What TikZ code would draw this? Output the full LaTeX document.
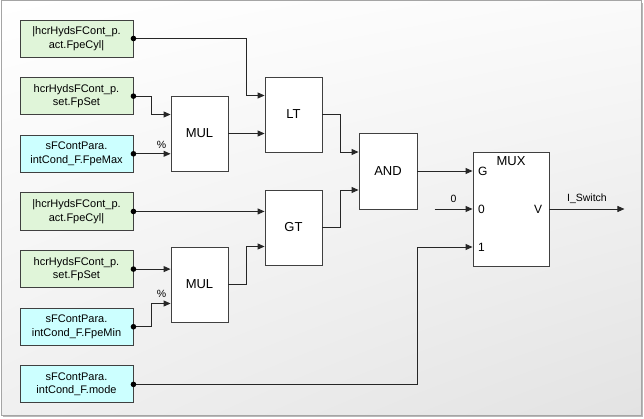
\documentclass[tikz,border=0pt]{standalone}
\usepackage{fontspec}
\setmainfont{Liberation Sans}
\usetikzlibrary{arrows.meta, calc, positioning, patterns, shadings}

\definecolor{inputgreen}{RGB}{224,245,217}
\definecolor{paracyan}{RGB}{204,255,255}
\definecolor{framegray}{RGB}{165,165,165}

\begin{document}
\begin{tikzpicture}[x=1pt, y=1pt, >={Triangle[length=7pt, width=6pt]}, line width=0.9pt,
    inbox/.style={draw=black!75, fill=inputgreen, minimum width=113pt, minimum height=37pt,
      align=center, inner sep=1pt, font=\fontsize{11}{13.5}\selectfont},
    parbox/.style={inbox, fill=paracyan},
    block/.style={draw=black!75, fill=white, minimum width=57pt, minimum height=75pt,
      font=\fontsize{13}{15}\selectfont},
    port/.style={inner sep=0pt, font=\fontsize{12}{14}\selectfont},
    small/.style={inner sep=1pt, font=\fontsize{10.5}{12}\selectfont},
    wire/.style={black!85}]
    \useasboundingbox (0,0) rectangle (644,418);
    % frame
    \fill[black!28] (3,1) rectangle (643,415);
    \shade[upper left=white, upper right=white!98!black, lower left=white!94!black,
      lower right=white!89!black] (1,3) rectangle (641,417);
    \draw[framegray, line width=1pt] (1,3) rectangle (641,417);

    % inputs
    \node[inbox] (in1) at (76.5,379.5) {|hcrHydsFCont\_p.\\act.FpeCyl|};
    \node[inbox, below=19.75pt of in1] (in2) {hcrHydsFCont\_p.\\set.FpSet};
    \node[parbox, below=19.75pt of in2] (in3) {sFContPara.\\intCond\_F.FpeMax};
    \node[inbox, below=19.75pt of in3] (in4) {|hcrHydsFCont\_p.\\act.FpeCyl|};
    \node[inbox, below=19.75pt of in4] (in5) {hcrHydsFCont\_p.\\set.FpSet};
    \node[parbox, below=19.75pt of in5] (in6) {sFContPara.\\intCond\_F.FpeMin};
    \node[parbox, below=19.75pt of in6] (in7) {sFContPara.\\intCond\_F.mode};

    % blocks
    \node[block] (mul1) at (199.5,284.5) {MUL};
    \node[block] (lt) at (293.5,303.5) {LT};
    \node[block] (gt) at (293.5,190.5) {GT};
    \node[block] (mul2) at (199.5,133.5) {MUL};
    \node[block, minimum width=58pt, minimum height=76pt] (and) at (388,247) {AND};
    \node[block, minimum width=76pt, minimum height=114pt] (mux) at (511,209) {};

    \node[port, font=\fontsize{13}{15}\selectfont] (mux-title) at ($(mux.north)+(0,-10pt)$) {MUX};
    \node[port, anchor=west] (mux-g) at ($(mux.west)+(5pt,38pt)$) {G};
    \node[port, anchor=west] (mux-0) at ($(mux.west)+(5pt,0)$) {0};
    \node[port, anchor=west] (mux-1) at ($(mux.west)+(5pt,-38pt)$) {1};
    \node[port, anchor=east] (mux-v) at ($(mux.east)+(-7pt,0)$) {V};

    % ports
    \coordinate (mul1-a) at ($(mul1.west)+(0,19pt)$);
    \coordinate (mul2-b) at ($(mul2.west)+(0,-19pt)$);
    \coordinate (lt-a) at ($(lt.west)+(0,19pt)$);
    \coordinate (gt-b) at ($(gt.west)+(0,-19pt)$);
    \coordinate (and-a) at ($(and.west)+(0,19pt)$);
    \coordinate (and-b) at ($(and.west)+(0,-19pt)$);
    \coordinate (mux-in1) at ($(mux.west)+(0,-38pt)$);
    \coordinate (zero) at ($(mux.west)+(-38pt,0)$);
    \coordinate (out) at ($(mux.east)+(75pt,0)$);

    % wires
    \draw[wire, ->] (in1.east) -| ($(lt-a)+(-18pt,0)$) -- (lt-a);
    \draw[wire, ->] (in2.east) -| ($(mul1-a)+(-19pt,0)$) -- (mul1-a);
    \draw[wire, ->] (in3.east) -- (in3.east -| mul1.west);
    \draw[wire, ->] (mul1.east) -- (mul1.east -| lt.west);
    \draw[wire, ->] (in4.east) -- (in4.east -| gt.west);
    \draw[wire, ->] (in5.east) -- (in5.east -| mul2.west);
    \draw[wire, ->] (in6.east) -| ($(mul2-b)+(-19pt,0)$) -- (mul2-b);
    \draw[wire, ->] (mul2.east) -| ($(gt-b)+(-18pt,0)$) -- (gt-b);
    \draw[wire, ->] (lt.east) -| ($(and-a)+(-18pt,0)$) -- (and-a);
    \draw[wire, ->] (gt.east) -| ($(and-b)+(-18pt,0)$) -- (and-b);
    \draw[wire, ->] (and.east) -- (and.east -| mux.west);
    \draw[wire, ->] (zero) -- (mux.west);
    \draw[wire, ->] (in7.east) -| (and.east |- mux-in1) -- (mux-in1);
    \draw[wire, ->] (mux.east) -- (out);
    \foreach \i in {1,...,7}
      \fill[black] (in\i.east) circle (2.8pt);

    \node[small] (pct1) at ($(in3.east -| mul1.west)+(-9pt,9pt)$) {\%};
    \node[small] (pct2) at ($(mul2-b)+(-9pt,9.5pt)$) {\%};
    \node[small] (zero-label) at ($(zero)!0.5!(mux.west)+(0,10pt)$) {0};
    \node[small] (out-label) at ($(mux.east)!0.5!(out)+(0,10pt)$) {I\_Switch};
\end{tikzpicture}
\end{document}
